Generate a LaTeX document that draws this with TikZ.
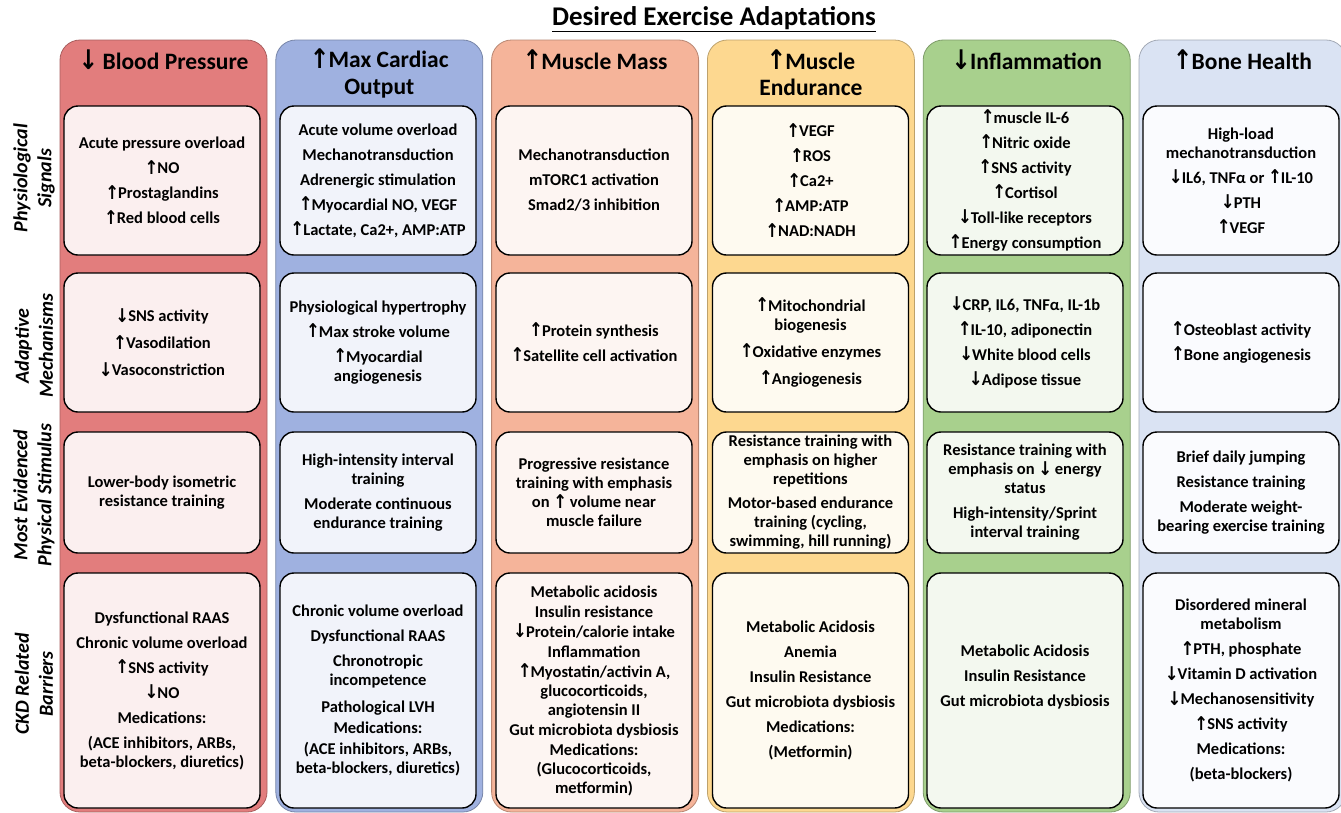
\documentclass[tikz,border=0pt]{standalone}
\usepackage{fontspec}
\setmainfont{Carlito}
\newfontfamily\arrowfont{DejaVu Sans}
\newcommand{\UA}{{\arrowfont\bfseries\raisebox{-0.5pt}{\scalebox{1.0}[1.15]{↑}}\kern-1pt}}
\newcommand{\DA}{{\arrowfont\bfseries\raisebox{-0.5pt}{\scalebox{1.0}[1.15]{↓}}\kern-1pt}}
\newcommand{\bodyfont}{\fontsize{16.5}{19}\selectfont\bfseries}
\newcommand{\headfont}{\fontsize{23.5}{26.5}\selectfont\bfseries}
\newcommand{\labfont}{\fontsize{20}{24}\selectfont\bfseries\itshape}
\newcommand{\titlefont}{\fontsize{27}{30}\selectfont\bfseries}
\definecolor{cA}{HTML}{E27D7D}
\definecolor{cB}{HTML}{9FB1E0}
\definecolor{cC}{HTML}{F5B49A}
\definecolor{cD}{HTML}{FDD890}
\definecolor{cE}{HTML}{A8D08D}
\definecolor{cF}{HTML}{DAE3F3}
\definecolor{iA}{HTML}{FBEFEF}
\definecolor{iB}{HTML}{F1F3FA}
\definecolor{iC}{HTML}{FDF5F2}
\definecolor{iD}{HTML}{FEFAF0}
\definecolor{iE}{HTML}{F3F8EF}
\definecolor{iF}{HTML}{FAFBFE}
\begin{document}
\begin{tikzpicture}[x=1pt,y=-1pt,
  colbox/.style={draw=#1!75!black, fill=#1, line width=0.8pt, rounded corners=20pt,
    minimum width=207pt, minimum height=772pt, inner sep=0pt},
  ibox/.style={draw=black, fill=#1, line width=1.4pt, rounded corners=14pt,
    minimum width=196pt, inner sep=0pt, align=center, font=\bodyfont},
  rowA/.style={minimum height=149pt},
  rowB/.style={minimum height=139pt},
  rowC/.style={minimum height=121pt},
  rowD/.style={minimum height=235pt},
  head/.style={font=\headfont, align=center, inner sep=0pt},
  rowlab/.style={font=\labfont, align=center, rotate=90, inner sep=0pt},
  plain/.style={align=center, font=\bodyfont, inner sep=0pt}]
\useasboundingbox (0,0) rectangle (1341,812);
\clip (0,0) rectangle (1341,812);
\fill[white] (0,0) rectangle (1341,812);

% title
\node[font=\titlefont, inner sep=0pt] (title) at (714,19) {\underline{Desired Exercise Adaptations}};

% columns
\node[colbox=cA] (c1) at (163.5,426) {};
\node[colbox=cB] (c2) at (379.3,426) {};
\node[colbox=cC] (c3) at (595.1,426) {};
\node[colbox=cD] (c4) at (810.9,426) {};
\node[colbox=cE] (c5) at (1026.7,426) {};
\node[colbox=cF] (c6) at (1242.5,426) {};

% headers
\node[head] (h1) at (163.5,60) {\DA{} Blood Pressure};
\node[head] (h2) at (379.3,73) {\UA Max Cardiac\\Output};
\node[head] (h3) at (595.1,60) {\UA Muscle Mass};
\node[head] (h4) at (810.9,73) {\UA Muscle\\Endurance};
\node[head] (h5) at (1026.7,60) {\DA Inflammation};
\node[head] (h6) at (1242.5,60) {\UA Bone Health};

% row labels
\node[rowlab] (l1) at (34,178) {Physiological\\Signals};
\node[rowlab] (l2) at (34,346) {Adaptive\\Mechanisms};
\node[rowlab] (l3) at (34,495) {Most Evidenced\\Physical Stimulus};
\node[rowlab] (l4) at (34,684) {CKD Related\\Barriers};

% row 1: physiological signals
\node[ibox=iA, rowA] (b11) at (162,180.5) {Acute pressure overload\\[6pt]\UA NO\\[6pt]\UA Prostaglandins\\[6pt]\UA Red blood cells};
\node[ibox=iB, rowA] (b12) at (378,180.5) {Acute volume overload\\[6pt]Mechanotransduction\\[6pt]Adrenergic stimulation\\[6pt]\UA Myocardial NO, VEGF\\[6pt]\UA Lactate, Ca2+, AMP:ATP};
\node[ibox=iC, rowA] (b13) at (594,180.5) {Mechanotransduction\\[6pt]mTORC1 activation\\[6pt]Smad2/3 inhibition};
\node[ibox=iD, rowA] (b14) at (810.5,180.5) {\UA VEGF\\[6pt]\UA ROS\\[6pt]\UA Ca2+\\[6pt]\UA AMP:ATP\\[6pt]\UA NAD:NADH};
\node[ibox=iE, rowA] (b15) at (1025,180.5) {\UA muscle IL-6\\[6pt]\UA Nitric oxide\\[6pt]\UA SNS activity\\[6pt]\UA Cortisol\\[6pt]\DA Toll-like receptors\\[6pt]\UA Energy consumption};
\node[ibox=iF, rowA] (b16) at (1241,180.5) {High-load\\mechanotransduction\\[6pt]\DA IL6, TNFα or \UA IL-10\\[6pt]\DA PTH\\[6pt]\UA VEGF};

% row 2: adaptive mechanisms
\node[ibox=iA, rowB] (b21) at (162,342.5) {\DA SNS activity\\[8pt]\UA Vasodilation\\[8pt]\DA Vasoconstriction};
\node[ibox=iB, rowB] (b22) at (378,342.5) {Physiological hypertrophy\\[6pt]\UA Max stroke volume\\[6pt]\UA Myocardial\\angiogenesis};
\node[ibox=iC, rowB] (b23) at (594,342.5) {\UA Protein synthesis\\[6pt]\UA Satellite cell activation};
\node[ibox=iD, rowB] (b24) at (810.5,342.5) {\UA Mitochondrial\\biogenesis\\[8pt]\UA Oxidative enzymes\\[8pt]\UA Angiogenesis};
\node[ibox=iE, rowB] (b25) at (1025,342.5) {\DA CRP, IL6, TNFα, IL-1b\\[6pt]\UA IL-10, adiponectin\\[6pt]\DA White blood cells\\[6pt]\DA Adipose tissue};
\node[ibox=iF, rowB] (b26) at (1241,342.5) {\UA Osteoblast activity\\[6pt]\UA Bone angiogenesis};

% row 3: most evidenced physical stimulus
\node[ibox=iA, rowC] (b31) at (162,492.5) {Lower-body isometric\\resistance training};
\node[ibox=iB, rowC] (b32) at (378,492.5) {High-intensity interval\\training\\[6pt]Moderate continuous\\endurance training};
\node[ibox=iC, rowC] (b33) at (594,492.5) {Progressive resistance\\training with emphasis\\on \UA{} volume near\\muscle failure};
\node[ibox=iD, rowC] (b34) at (810.5,492.5) {Resistance training with\\emphasis on higher\\repetitions\\[5pt]Motor-based endurance\\training (cycling,\\swimming, hill running)};
\node[ibox=iE, rowC] (b35) at (1025,492.5) {Resistance training with\\emphasis on \DA{} energy\\status\\[6pt]High-intensity/Sprint\\interval training};
\node[ibox=iF, rowC] (b36) at (1241,492.5) {Brief daily jumping\\[6pt]Resistance training\\[6pt]Moderate weight-\\bearing exercise training};

% row 4: CKD related barriers
\node[ibox=iA, rowD] (b41) at (162,690.5) {Dysfunctional RAAS\\[6pt]Chronic volume overload\\[6pt]\UA SNS activity\\[6pt]\DA NO\\[6pt]Medications:\\[6pt](ACE inhibitors, ARBs,\\beta-blockers, diuretics)};
\node[ibox=iB, rowD] (b42) at (378,690.5) {Chronic volume overload\\[6pt]Dysfunctional RAAS\\[6pt]Chronotropic\\incompetence\\[8pt]Pathological LVH\\[2pt]Medications:\\[2pt](ACE inhibitors, ARBs,\\beta-blockers, diuretics)};
\node[ibox=iC, rowD] (b43) at (594,690.5) {Metabolic acidosis\\[1pt]Insulin resistance\\[1pt]\DA Protein/calorie intake\\[1pt]Inflammation\\[1pt]\UA Myostatin/activin A,\\glucocorticoids,\\angiotensin II\\[1pt]Gut microbiota dysbiosis\\[1pt]Medications:\\(Glucocorticoids,\\metformin)};
\node[ibox=iD, rowD] (b44) at (810.5,690.5) {Metabolic Acidosis\\[6pt]Anemia\\[6pt]Insulin Resistance\\[6pt]Gut microbiota dysbiosis\\[6pt]Medications:\\[6pt](Metformin)};
\node[ibox=iE, rowD] (b45) at (1025,690.5) {};
\node[plain] (t45) at (1025,677) {Metabolic Acidosis\\[6pt]Insulin Resistance\\[6pt]Gut microbiota dysbiosis};
\node[ibox=iF, rowD] (b46) at (1241,690.5) {Disordered mineral\\metabolism\\[6pt]\UA PTH, phosphate\\[6pt]\DA Vitamin D activation\\[6pt]\DA Mechanosensitivity\\[6pt]\UA SNS activity\\[6pt]Medications:\\[6pt](beta-blockers)};
\end{tikzpicture}
\end{document}
